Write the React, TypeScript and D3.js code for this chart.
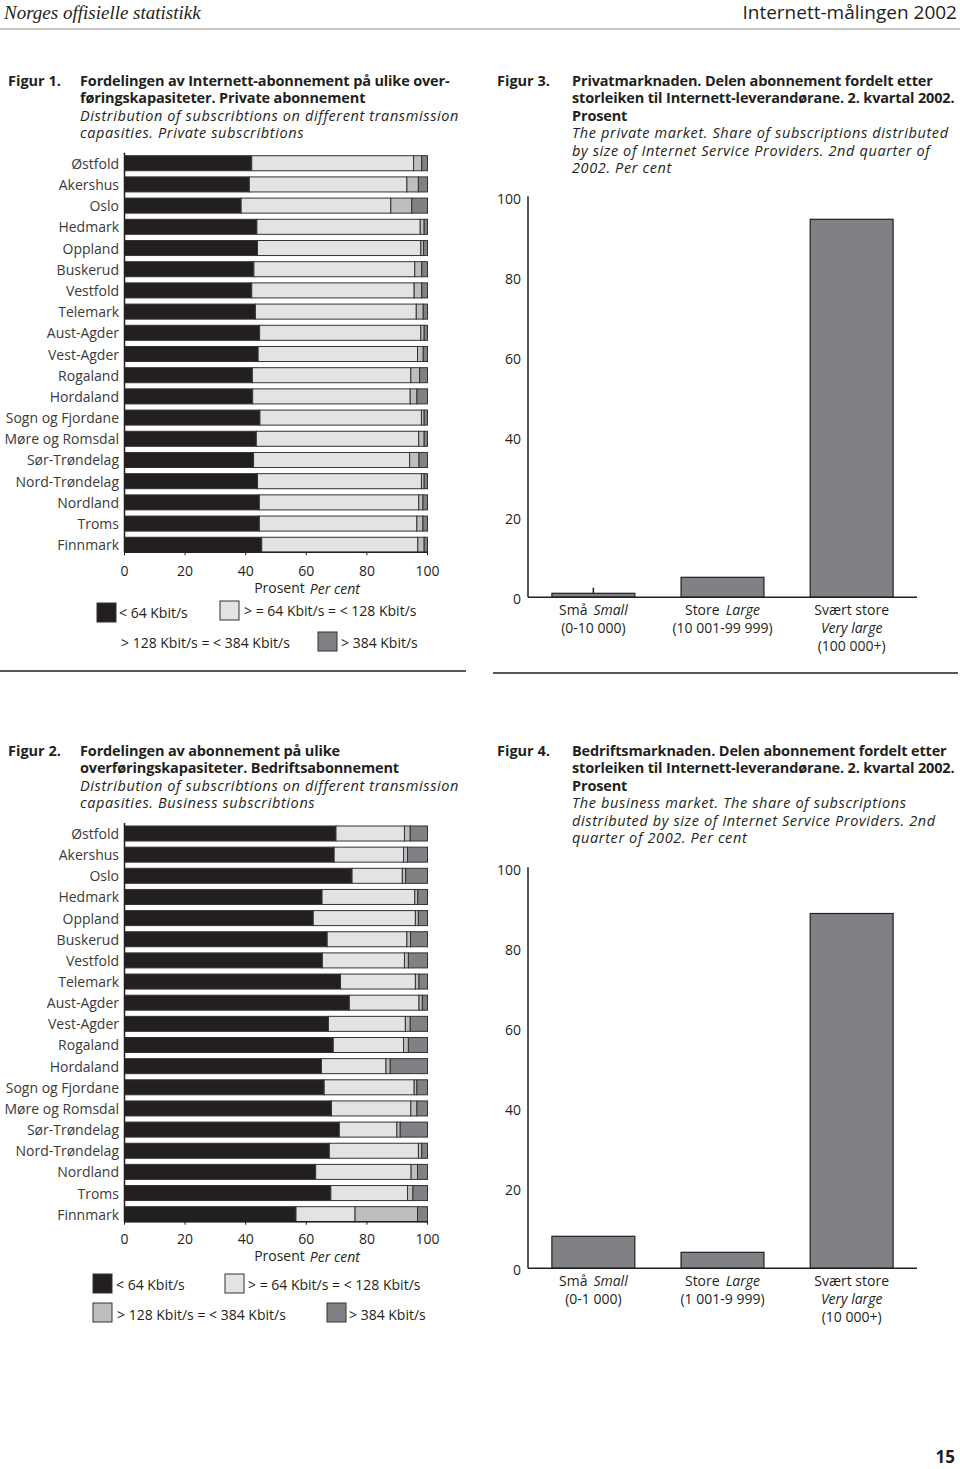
import React from "react";
import * as d3 from "d3";

const FONT = "'Open Sans', 'Noto Sans', sans-serif";
const INK = "#231f20";

const counties = [
  "Østfold", "Akershus", "Oslo", "Hedmark", "Oppland", "Buskerud", "Vestfold", "Telemark",
  "Aust-Agder", "Vest-Agder", "Rogaland", "Hordaland", "Sogn og Fjordane", "Møre og Romsdal",
  "Sør-Trøndelag", "Nord-Trøndelag", "Nordland", "Troms", "Finnmark",
];

const speedKeys = ["lt64", "r64", "r128", "gt384"];
const speedLabels = ["< 64 Kbit/s", "> = 64 Kbit/s = <  128 Kbit/s", "> 128 Kbit/s = < 384 Kbit/s", "> 384 Kbit/s"];
const speedColors = ["#231f20", "#e2e3e4", "#bdbec0", "#808184"];

// Figure 1: private subscriptions (per cent)
const privLt64 = [42.0, 41.2, 38.5, 43.7, 43.9, 42.7, 42.0, 43.2, 44.6, 44.1, 42.2, 42.3, 44.7, 43.5, 42.6, 43.9, 44.5, 44.5, 45.3];
const privR64 = [53.4, 52.0, 49.4, 53.9, 53.9, 53.1, 53.6, 53.1, 53.2, 52.6, 52.3, 52.0, 53.3, 53.6, 51.5, 54.1, 52.6, 52.0, 51.5];
const privR128 = [2.7, 3.8, 6.9, 1.3, 0.9, 2.3, 2.5, 2.3, 1.1, 1.9, 2.9, 2.2, 0.9, 1.8, 3.1, 0.9, 1.4, 2.0, 2.1];
const privGt384 = [1.9, 3.0, 5.2, 1.1, 1.3, 1.9, 1.9, 1.4, 1.1, 1.4, 2.6, 3.5, 1.1, 1.1, 2.8, 1.1, 1.5, 1.5, 1.1];

// Figure 2: business subscriptions (per cent)
const bizLt64 = [69.8, 69.2, 75.1, 65.2, 62.3, 66.9, 65.3, 71.3, 74.2, 67.3, 68.9, 65.0, 65.9, 68.3, 70.9, 67.6, 63.1, 68.1, 56.6];
const bizR64 = [22.6, 22.9, 16.6, 30.6, 33.7, 26.3, 27.1, 24.7, 23.0, 25.4, 23.2, 21.3, 29.7, 26.2, 19.0, 29.4, 31.5, 25.3, 19.5];
const bizR128 = [1.9, 1.3, 1.1, 1.0, 1.0, 1.2, 1.3, 1.2, 1.1, 1.6, 1.6, 1.4, 0.9, 2.0, 1.1, 1.1, 2.1, 1.8, 20.6];
const bizGt384 = [5.7, 6.6, 7.2, 3.2, 3.0, 5.6, 6.3, 2.8, 1.7, 5.7, 6.3, 12.3, 3.5, 3.5, 9.0, 1.9, 3.3, 4.8, 3.3];

const pctTicks = [0, 20, 40, 60, 80, 100];

// Figures 3 and 4: provider size
const sizeNo = ["Små", "Store", "Svært store"];
const sizeEn = ["Small", "Large", "Very large"];
const privRanges = ["(0-10 000)", "(10 001-99 999)", "(100 000+)"];
const bizRanges = ["(0-1 000)", "(1 001-9 999)", "(10 000+)"];
const privShare = [1.0, 5.0, 94.5];
const bizShare = [8.0, 4.0, 88.7];

type HProps = {
  top: number; bottom: number; tickY: number; lt: number[]; r64: number[]; r128: number[]; gt: number[];
};

function HStack({ top, bottom, tickY, lt, r64, r128, gt }: HProps) {
  const x = d3.scaleLinear().domain([0, 100]).range([124.5, 427.5]);
  const y = d3.scaleBand<string>().domain(counties).range([top, bottom]).paddingInner(0.29).paddingOuter(0);
  const rows = counties.map((c, i) => ({ county: c, lt64: lt[i], r64: r64[i], r128: r128[i], gt384: gt[i] }));
  const series = d3.stack<any>().keys(speedKeys)(rows);
  return (
    <g>
      {series.map((s, si) => (
        <g key={si}>
          {s.map((d, i) => (
            <rect key={i} x={x(d[0])} y={y(counties[i])!} width={Math.max(0, x(d[1]) - x(d[0]))}
              height={y.bandwidth()} fill={speedColors[si]} stroke="#333" strokeWidth={1} />
          ))}
        </g>
      ))}
      {counties.map((c) => (
        <text key={c} x={119} y={y(c)! + y.bandwidth() / 2} textAnchor="end" dominantBaseline="central"
          fontSize={14} fill="#3a3a3a">{c}</text>
      ))}
      <line x1={124.5} x2={124.5} y1={top - 3} y2={bottom} stroke={INK} strokeWidth={1.5} />
      <line x1={124.5} x2={427.5} y1={bottom} y2={bottom} stroke={INK} strokeWidth={1.5} />
      {pctTicks.map((t) => (
        <g key={t}>
          <line x1={x(t)} x2={x(t)} y1={bottom} y2={bottom + 3} stroke={INK} />
          <text x={x(t)} y={tickY} textAnchor="middle" dominantBaseline="central" fontSize={14} fill={INK}>{t}</text>
        </g>
      ))}
      <text x={307} y={tickY + 17.5} textAnchor="middle" dominantBaseline="central" fontSize={14} fill={INK}>
        Prosent<tspan dx={5} fontStyle="italic">Per cent</tspan>
      </text>
    </g>
  );
}

type VProps = { axisY: number; share: number[]; ranges: string[]; marker?: boolean };

function VBars({ axisY, share, ranges, marker }: VProps) {
  const x = d3.scaleBand<string>().domain(sizeNo).range([528, 917]).paddingInner(0.358).paddingOuter(0.185);
  const y = d3.scaleLinear().domain([0, 100]).range([axisY, axisY - 400]);
  const ticks = [0, 20, 40, 60, 80, 100];
  return (
    <g>
      {ticks.map((t) => (
        <text key={t} x={521} y={y(t) + 1.5} textAnchor="end" dominantBaseline="central" fontSize={14} fill={INK}>{t}</text>
      ))}
      {sizeNo.map((c, i) => (
        <rect key={c} x={x(c)!} y={y(share[i])} width={x.bandwidth()} height={y(0) - y(share[i])}
          fill="#808184" stroke={INK} strokeWidth={1.2} />
      ))}
      {marker && (
        <line x1={x(sizeNo[0])! + x.bandwidth() / 2} x2={x(sizeNo[0])! + x.bandwidth() / 2}
          y1={y(share[0])} y2={y(share[0] + 1.4)} stroke={INK} strokeWidth={1.5} />
      )}
      <line x1={528} x2={528} y1={y(100) - 1} y2={axisY} stroke={INK} strokeWidth={1.5} />
      <line x1={528} x2={917} y1={axisY} y2={axisY} stroke={INK} strokeWidth={1.5} />
      {sizeNo.map((c, i) => {
        const cx = x(c)! + x.bandwidth() / 2;
        if (i < 2) {
          return (
            <g key={c}>
              <text x={cx} y={axisY + 12} textAnchor="middle" dominantBaseline="central" fontSize={14} fill={INK}>
                {c}<tspan dx={6} fontStyle="italic">{sizeEn[i]}</tspan>
              </text>
              <text x={cx} y={axisY + 30} textAnchor="middle" dominantBaseline="central" fontSize={14} fill={INK}>{ranges[i]}</text>
            </g>
          );
        }
        return (
          <g key={c}>
            <text x={cx} y={axisY + 12} textAnchor="middle" dominantBaseline="central" fontSize={14} fill={INK}>{c}</text>
            <text x={cx} y={axisY + 30} textAnchor="middle" dominantBaseline="central" fontSize={14} fill={INK} fontStyle="italic">{sizeEn[i]}</text>
            <text x={cx} y={axisY + 48} textAnchor="middle" dominantBaseline="central" fontSize={14} fill={INK}>{ranges[i]}</text>
          </g>
        );
      })}
    </g>
  );
}

function Title({ x, y, dx, num, lines }: { x: number; y: number; dx: number; num: string; lines: { t: string; b: boolean }[] }) {
  return (
    <g fontSize={14.5} fill={INK}>
      <text x={x} y={y} dominantBaseline="central" fontWeight="bold">{num}</text>
      {lines.map((l, i) => (
        <text key={i} x={x + dx} y={y + i * 17.5} dominantBaseline="central"
          fontWeight={l.b ? "bold" : "normal"} fontStyle={l.b ? "normal" : "italic"}
          letterSpacing={l.b ? -0.15 : 0.62}>{l.t}</text>
      ))}
    </g>
  );
}

function LegendBox({ x, y, fill }: { x: number; y: number; fill: string }) {
  return <rect x={x} y={y} width={19} height={19} fill={fill} stroke="#333" strokeWidth={1} />;
}

export default function App() {
  return (
    <div style={{ position: "absolute", left: 0, top: 0 }}>
      <svg width={960} height={1469} style={{ display: "block", fontFamily: FONT }}>
        <rect width={960} height={1469} fill="#fff" />
        <text x={4} y={19} fontFamily="'Liberation Serif', serif" fontStyle="italic" fontSize={19} fill={INK}>Norges offisielle statistikk</text>
        <text x={957} y={19} textAnchor="end" fontSize={19} fill={INK}>Internett-målingen 2002</text>
        <line x1={0} x2={960} y1={29} y2={29} stroke="#c8c8c8" strokeWidth={2} />

        <Title x={8} y={80} dx={72} num="Figur 1." lines={[
          { t: "Fordelingen av Internett-abonnement på ulike over-", b: true },
          { t: "føringskapasiteter. Private abonnement", b: true },
          { t: "Distribution of subscribtions on different transmission", b: false },
          { t: "capasities. Private subscribtions", b: false },
        ]} />
        <HStack top={155.7} bottom={552.3} tickY={570} lt={privLt64} r64={privR64} r128={privR128} gt={privGt384} />
        <LegendBox x={97} y={603} fill={speedColors[0]} />
        <text x={119} y={612} dominantBaseline="central" fontSize={14} fill={INK}>{speedLabels[0]}</text>
        <LegendBox x={220} y={601} fill={speedColors[1]} />
        <text x={244} y={610} dominantBaseline="central" fontSize={14} fill={INK}>{speedLabels[1]}</text>
        <text x={121} y={642} dominantBaseline="central" fontSize={14} fill={INK}>{speedLabels[2]}</text>
        <LegendBox x={318} y={632} fill={speedColors[3]} />
        <text x={341} y={642} dominantBaseline="central" fontSize={14} fill={INK}>{speedLabels[3]}</text>
        <line x1={0} x2={466} y1={671} y2={671} stroke={INK} strokeWidth={1.5} />

        <Title x={497} y={80} dx={75} num="Figur 3." lines={[
          { t: "Privatmarknaden. Delen abonnement fordelt etter", b: true },
          { t: "storleiken til Internett-leverandørane. 2. kvartal 2002.", b: true },
          { t: "Prosent", b: true },
          { t: "The private market. Share of subscriptions distributed", b: false },
          { t: "by size of Internet Service Providers. 2nd quarter of", b: false },
          { t: "2002. Per cent", b: false },
        ]} />
        <VBars axisY={597.3} share={privShare} ranges={privRanges} marker />
        <line x1={493} x2={958} y1={673} y2={673} stroke={INK} strokeWidth={1.5} />

        <Title x={8} y={750} dx={72} num="Figur 2." lines={[
          { t: "Fordelingen av abonnement på ulike", b: true },
          { t: "overføringskapasiteter. Bedriftsabonnement", b: true },
          { t: "Distribution of subscribtions on different transmission", b: false },
          { t: "capasities. Business subscribtions", b: false },
        ]} />
        <HStack top={826} bottom={1221.7} tickY={1238} lt={bizLt64} r64={bizR64} r128={bizR128} gt={bizGt384} />
        <LegendBox x={93} y={1274} fill={speedColors[0]} />
        <text x={116} y={1284} dominantBaseline="central" fontSize={14} fill={INK}>{speedLabels[0]}</text>
        <LegendBox x={225} y={1274} fill={speedColors[1]} />
        <text x={248} y={1284} dominantBaseline="central" fontSize={14} fill={INK}>{speedLabels[1]}</text>
        <LegendBox x={93} y={1303} fill={speedColors[2]} />
        <text x={117} y={1314} dominantBaseline="central" fontSize={14} fill={INK}>{speedLabels[2]}</text>
        <LegendBox x={327} y={1303} fill={speedColors[3]} />
        <text x={349} y={1314} dominantBaseline="central" fontSize={14} fill={INK}>{speedLabels[3]}</text>

        <Title x={497} y={750} dx={75} num="Figur 4." lines={[
          { t: "Bedriftsmarknaden. Delen abonnement fordelt etter", b: true },
          { t: "storleiken til Internett-leverandørane. 2. kvartal 2002.", b: true },
          { t: "Prosent", b: true },
          { t: "The business market. The share of subscriptions", b: false },
          { t: "distributed by size of Internet Service Providers. 2nd", b: false },
          { t: "quarter of 2002. Per cent", b: false },
        ]} />
        <VBars axisY={1268.3} share={bizShare} ranges={bizRanges} />

        <text x={955} y={1456} textAnchor="end" dominantBaseline="central" fontSize={17} fontWeight="bold" fill={INK}>15</text>
      </svg>
    </div>
  );
}
